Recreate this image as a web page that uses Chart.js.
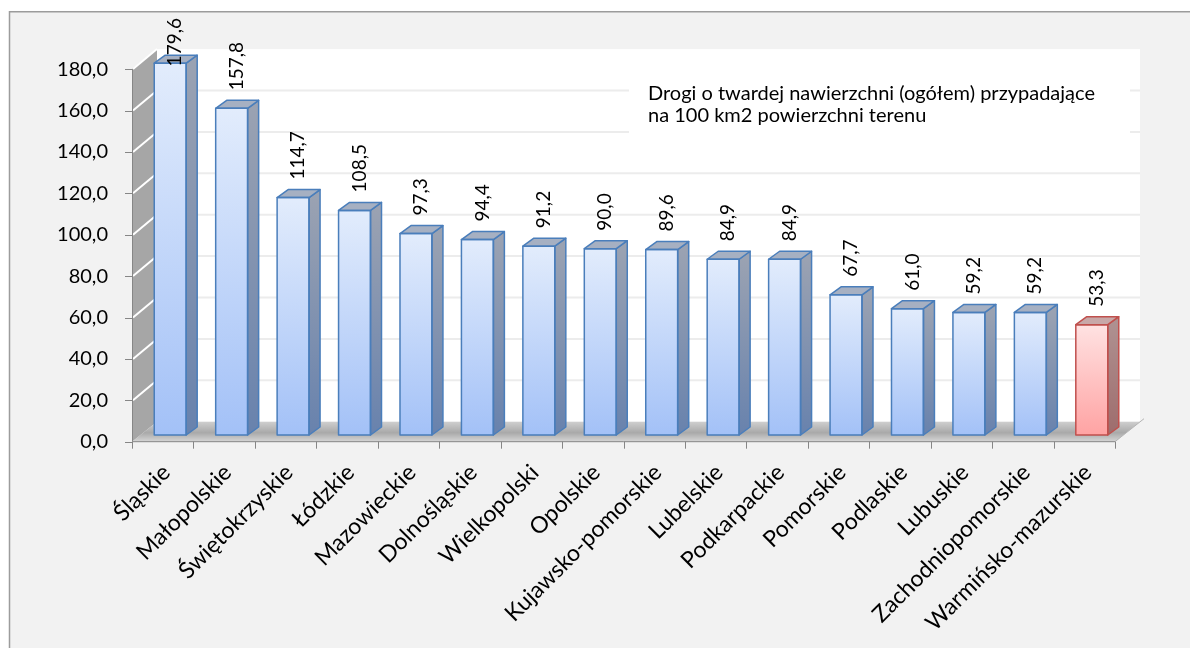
<!DOCTYPE html>
<html>
<head>
<meta charset="utf-8">
<script src="https://cdn.jsdelivr.net/npm/chart.js@4.4.1/dist/chart.umd.min.js"></script>
<style>
  html, body { margin: 0; padding: 0; background: #ffffff; overflow: hidden; width: 1190px; height: 648px; }
  #wrap { position: absolute; left: 0; top: 11px; width: 1190px; height: 637px; overflow: hidden; }
</style>
</head>
<body>
<div id="wrap"><canvas id="c" width="1190" height="637"></canvas></div>
<script>
// Road density by voivodeship (km of hard-surface roads per 100 km2)
const regions = ['Śląskie', 'Małopolskie', 'Świętokrzyskie', 'Łódzkie', 'Mazowieckie', 'Dolnośląskie',
  'Wielkopolski', 'Opolskie', 'Kujawsko-pomorskie', 'Lubelskie', 'Podkarpackie', 'Pomorskie',
  'Podlaskie', 'Lubuskie', 'Zachodniopomorskie', 'Warmińsko-mazurskie'];
const roadDensity = [179.6, 157.8, 114.7, 108.5, 97.3, 94.4, 91.2, 90.0, 89.6, 84.9, 84.9, 67.7, 61.0, 59.2, 59.2, 53.3];
const highlighted = ['Warmińsko-mazurskie'];
const yTicks = [0, 20, 40, 60, 80, 100, 120, 140, 160, 180];
const noteLines = ['Drogi o twardej nawierzchni (ogółem) przypadające', 'na 100 km2 powierzchni terenu'];

// 3D geometry: bars stand on a plane behind the front axes
const FRONT = { dx: -7.5, dy: 6.7 };   // front axis plane relative to bar plane
const WALL = { dx: 25, dy: -20 };      // back wall relative to front plane
const BOX = { dx: 11, dy: -8 };        // bar depth
const FONT = 'Lato, "Open Sans", sans-serif';

const fmt = v => v.toFixed(1).replace('.', ',');

const BLUE = { top: '#e2ecfc', bottom: '#a3c1f7', edge: '#4a7ebb', sideTop: '#9aa2b2', sideBottom: '#6882ad', lid: '#a6b0c2' };
const RED = { top: '#ffe2e2', bottom: '#ffa3a3', edge: '#c0504d', sideTop: '#ae9090', sideBottom: '#9e6c6c', lid: '#c8a8a8' };
const paletteFor = i => highlighted.includes(regions[i]) ? RED : BLUE;

function frontFill(c) {
  const pal = paletteFor(c.dataIndex);
  const ys = c.chart.scales.y;
  if (!ys || c.type !== 'data') return pal.bottom;
  const y0 = ys.getPixelForValue(c.raw), y1 = ys.getPixelForValue(0);
  if (!isFinite(y0) || !isFinite(y1) || y0 === y1) return pal.bottom;
  const g = c.chart.ctx.createLinearGradient(0, y0, 0, y1);
  g.addColorStop(0, pal.top);
  g.addColorStop(1, pal.bottom);
  return g;
}

const scene3d = {
  id: 'scene3d',
  beforeDraw(chart) {
    const { ctx, width, height } = chart;
    ctx.save();
    ctx.fillStyle = '#ffffff';
    ctx.fillRect(0, 0, width, height);
    ctx.fillStyle = '#f2f2f2';
    ctx.fillRect(9, 0, width - 9, height);
    ctx.strokeStyle = '#9c9c9c';
    ctx.lineWidth = 1.5;
    ctx.beginPath();
    ctx.moveTo(9.5, height);
    ctx.lineTo(9.5, 0.75);
    ctx.lineTo(width, 0.75);
    ctx.stroke();
    ctx.restore();
  },
  beforeDatasetsDraw(chart) {
    const { ctx, chartArea: a, scales } = chart;
    const ys = scales.y;
    const fx0 = a.left + FRONT.dx, fx1 = a.right + FRONT.dx;
    const fy = v => ys.getPixelForValue(v) + FRONT.dy;
    const by = v => fy(v) + WALL.dy;
    const bx0 = fx0 + WALL.dx, bx1 = fx1 + WALL.dx;
    const vMin = yTicks[0], vMax = yTicks[yTicks.length - 1];
    ctx.save();

    // back wall
    ctx.fillStyle = '#ffffff';
    ctx.fillRect(bx0, by(vMax), bx1 - bx0, by(vMin) - by(vMax));
    ctx.strokeStyle = '#ececec';
    ctx.lineWidth = 2;
    yTicks.slice(1, -1).forEach(v => {
      ctx.beginPath();
      ctx.moveTo(bx0, by(v));
      ctx.lineTo(bx1, by(v));
      ctx.stroke();
    });

    // note box
    ctx.fillStyle = '#ffffff';
    ctx.fillRect(629, 45, 501, 94);
    ctx.fillStyle = '#000000';
    ctx.font = '20px ' + FONT;
    ctx.textBaseline = 'alphabetic';
    ctx.textAlign = 'left';
    noteLines.forEach((t, i) => ctx.fillText(t, 648, 89 + i * 22));

    // side wall
    ctx.fillStyle = '#a6a6a6';
    ctx.beginPath();
    ctx.moveTo(fx0, fy(vMin));
    ctx.lineTo(fx0, fy(vMax));
    ctx.lineTo(bx0, by(vMax));
    ctx.lineTo(bx0, by(vMin));
    ctx.closePath();
    ctx.fill();
    ctx.strokeStyle = '#ffffff';
    ctx.lineWidth = 2;
    yTicks.slice(1).forEach(v => {
      ctx.beginPath();
      ctx.moveTo(fx0 + 1, fy(v));
      ctx.lineTo(bx0, by(v));
      ctx.stroke();
    });

    // floor
    const g = ctx.createLinearGradient(0, by(vMin), 0, fy(vMin));
    g.addColorStop(0, '#cfcfcf');
    g.addColorStop(0.55, '#a9a9a9');
    g.addColorStop(1, '#d6d6d6');
    ctx.fillStyle = g;
    ctx.beginPath();
    ctx.moveTo(fx0, fy(vMin));
    ctx.lineTo(fx1, fy(vMin));
    ctx.lineTo(bx1, by(vMin));
    ctx.lineTo(bx0, by(vMin));
    ctx.closePath();
    ctx.fill();
    ctx.strokeStyle = '#b4b4b4';
    ctx.lineWidth = 1;
    ctx.beginPath();
    ctx.moveTo(fx1, fy(vMin));
    ctx.lineTo(bx1 + 4, by(vMin) - 3);
    ctx.stroke();

    // axes
    ctx.strokeStyle = '#868686';
    ctx.lineWidth = 1;
    ctx.beginPath();
    ctx.moveTo(Math.round(fx0) + 0.5, fy(vMax));
    ctx.lineTo(Math.round(fx0) + 0.5, fy(vMin));
    ctx.lineTo(fx1, fy(vMin));
    yTicks.forEach(v => {
      ctx.moveTo(fx0 - 7, Math.round(fy(v)) + 0.5);
      ctx.lineTo(fx0, Math.round(fy(v)) + 0.5);
    });
    const cw = (a.right - a.left) / regions.length;
    for (let i = 0; i <= regions.length; i++) {
      const x = Math.round(fx0 + i * cw) + 0.5;
      ctx.moveTo(x, fy(vMin));
      ctx.lineTo(x, fy(vMin) + 7);
    }
    ctx.stroke();
    ctx.restore();
  },
  afterDatasetsDraw(chart) {
    const { ctx } = chart;
    const meta = chart.getDatasetMeta(0);
    ctx.save();
    meta.data.forEach((bar, i) => {
      const pal = paletteFor(i);
      const half = bar.width / 2;
      const xl = bar.x - half, xr = bar.x + half;
      const yt = bar.y, yb = bar.base;
      ctx.lineWidth = 1.5;
      ctx.strokeStyle = pal.edge;
      ctx.lineJoin = 'round';
      // side face
      const sg = ctx.createLinearGradient(0, yt, 0, yb);
      sg.addColorStop(0, pal.sideTop);
      sg.addColorStop(1, pal.sideBottom);
      ctx.fillStyle = sg;
      ctx.beginPath();
      ctx.moveTo(xr, yt);
      ctx.lineTo(xr + BOX.dx, yt + BOX.dy);
      ctx.lineTo(xr + BOX.dx, yb + BOX.dy);
      ctx.lineTo(xr, yb);
      ctx.closePath();
      ctx.fill();
      ctx.stroke();
      // top face
      ctx.fillStyle = pal.lid;
      ctx.beginPath();
      ctx.moveTo(xl, yt);
      ctx.lineTo(xl + BOX.dx, yt + BOX.dy);
      ctx.lineTo(xr + BOX.dx, yt + BOX.dy);
      ctx.lineTo(xr, yt);
      ctx.closePath();
      ctx.fill();
      ctx.stroke();
      // front outline redrawn on top
      ctx.strokeRect(xl, yt, bar.width, yb - yt);

      // value label, vertical
      const txt = fmt(roadDensity[i]);
      ctx.font = '19px ' + FONT;
      const w = ctx.measureText(txt).width;
      let start = yt + BOX.dy - 10;
      if (start - w < 7) start = 7 + w;
      ctx.save();
      ctx.translate(bar.x + 5, start);
      ctx.rotate(-Math.PI / 2);
      ctx.fillStyle = '#000000';
      ctx.textAlign = 'left';
      ctx.textBaseline = 'middle';
      ctx.fillText(txt, 0, 0);
      ctx.restore();
    });
    ctx.restore();
  }
};

new Chart(document.getElementById('c'), {
  type: 'bar',
  data: {
    labels: regions,
    datasets: [{
      data: roadDensity,
      backgroundColor: frontFill,
      borderColor: 'rgba(0,0,0,0)',
      borderWidth: 0,
      barPercentage: 0.52,
      categoryPercentage: 1.0
    }]
  },
  options: {
    responsive: false,
    devicePixelRatio: 1,
    animation: false,
    layout: { padding: { top: 51.4, right: 67.5, left: 0, bottom: 0 } },
    plugins: { legend: { display: false }, tooltip: { enabled: false }, title: { display: false } },
    scales: {
      x: {
        grid: { display: false, drawTicks: false },
        border: { display: false },
        ticks: {
          autoSkip: false,
          minRotation: 45,
          maxRotation: 45,
          padding: 24,
          labelOffset: -4,
          color: '#000000',
          font: { family: FONT, size: 23 }
        },
        afterFit: s => { s.height = 213; }
      },
      y: {
        min: yTicks[0],
        max: yTicks[yTicks.length - 1],
        grid: { display: false, drawTicks: false },
        border: { display: false },
        ticks: {
          stepSize: 20,
          padding: 31.5,
          labelOffset: 6.7,
          color: '#000000',
          font: { family: FONT, size: 20 },
          callback: v => fmt(v)
        },
        afterFit: s => { s.width = 139.5; }
      }
    }
  },
  plugins: [scene3d]
});
</script>
</body>
</html>
